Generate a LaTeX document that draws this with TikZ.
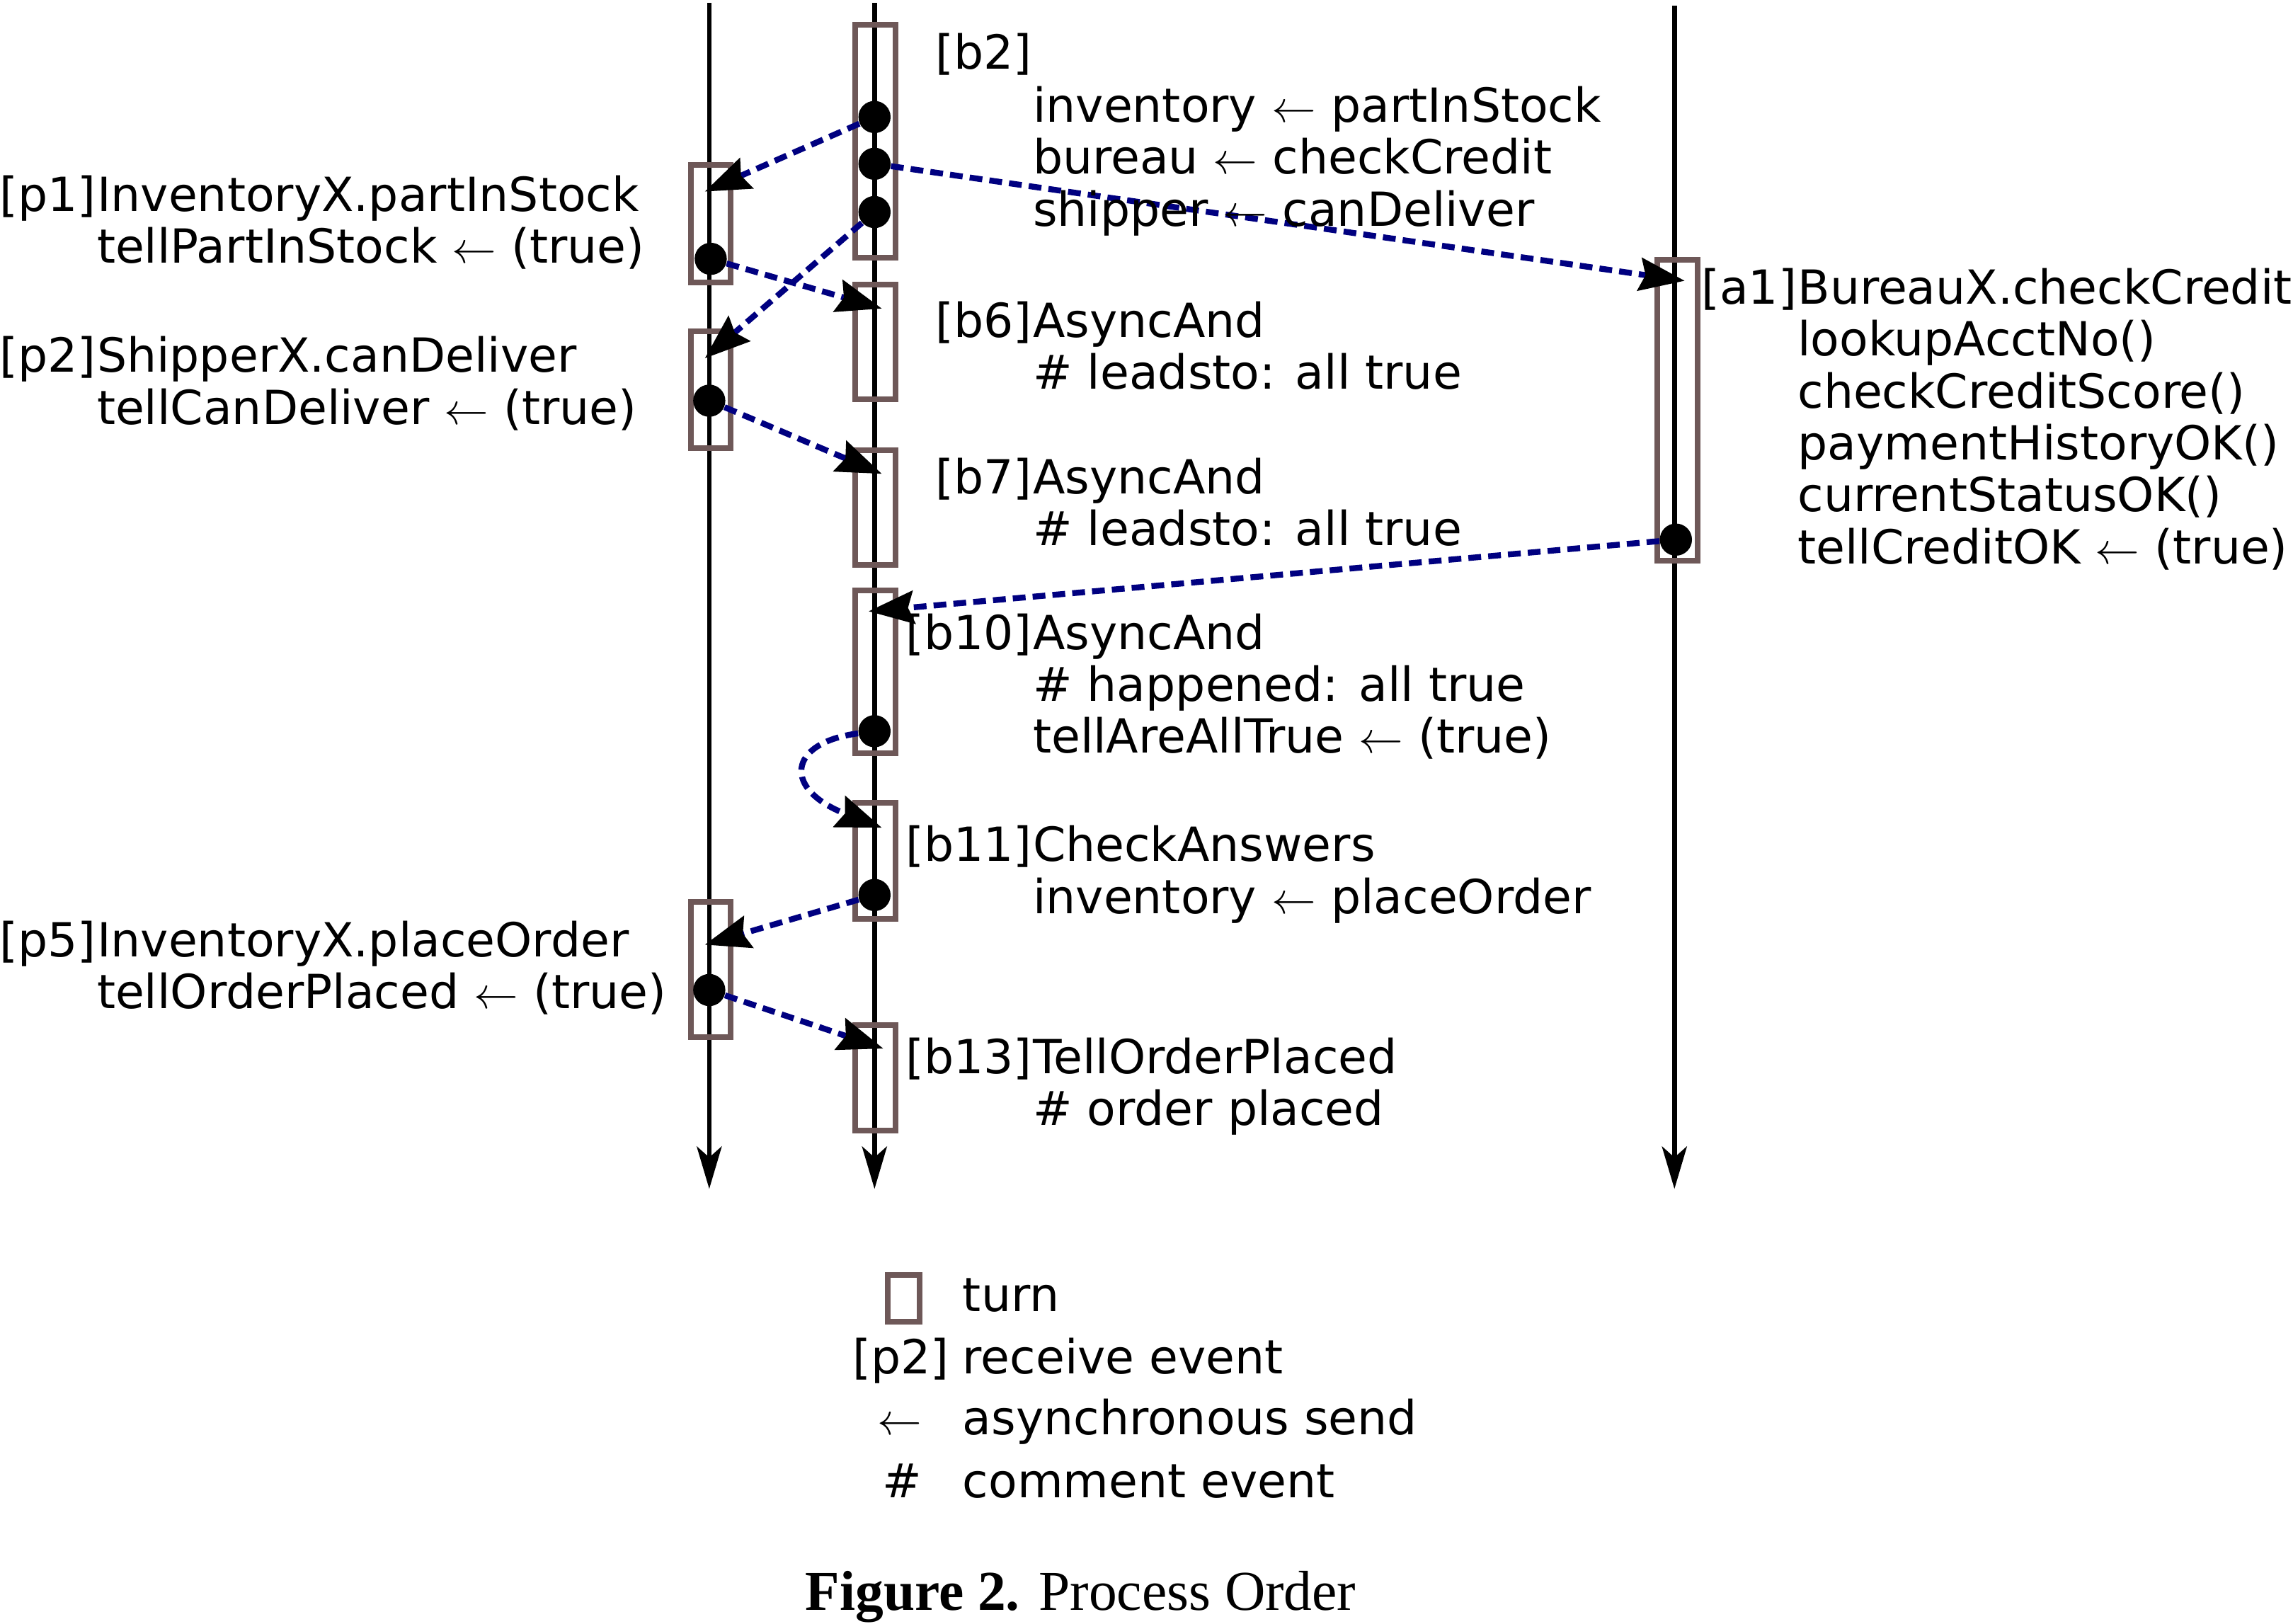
\documentclass[tikz,border=0pt]{standalone}
\usepackage{fontspec}
\setmainfont{DejaVu Sans}
\newfontfamily\capfont{Liberation Serif}
\usetikzlibrary{arrows.meta, positioning}

\definecolor{turnbrown}{RGB}{110,88,88}
\definecolor{msgblue}{RGB}{0,0,128}

\newcommand{\evfont}{\fontsize{18.3pt}{20.2pt}\selectfont}
\newcommand{\evlines}[1]{\begin{tabular}[t]{@{}l@{}}#1\end{tabular}}

\tikzset{
  turn/.style={draw=turnbrown, line width=2.2pt, rectangle, minimum width=0.55cm, inner sep=0pt},
  dot/.style={circle, fill=black, minimum size=0.44cm, inner sep=0pt},
  life/.style={line width=1.85pt, -{Stealth[length=0.58cm, width=0.34cm, inset=0.15cm]}},
  msg/.style={draw=msgblue, line width=2.3pt, dash pattern=on 0.175cm off 0.097cm,
    -{Stealth[length=0.62cm, width=0.45cm, inset=0.08cm, color=black]}},
  tag/.style={anchor=base east, inner sep=0pt, font=\evfont},
  body/.style={anchor=base west, inner sep=0pt, font=\evfont},
  sym/.style={anchor=base, inner sep=0pt, font=\evfont},
}

\begin{document}
\begin{tikzpicture}[x=0.02cm, y=-0.02cm]
    \useasboundingbox (0,0) rectangle (1568,1110.5);

    % Draw the lifelines
    \coordinate (ptop) at (485,2);
    \coordinate (pend) at (485,813);
    \coordinate (btop) at (598,2);
    \coordinate (bend) at (598,813);
    \coordinate (atop) at (1145,4);
    \coordinate (aend) at (1145,813);
    \draw [life] (ptop) -- (pend);
    \draw [life] (btop) -- (bend);
    \draw [life] (atop) -- (aend);

    % Draw the turns
    \node (p1)  [turn, minimum height=1.61cm] at (486,153) {};
    \node (p2)  [turn, minimum height=1.59cm] at (486,266.5) {};
    \node (p5)  [turn, minimum height=1.85cm] at (486,663) {};
    \node (b2)  [turn, minimum height=3.19cm] at (598.5,96.5) {};
    \node (b6)  [turn, minimum height=1.57cm] at (598.5,234) {};
    \node (b7)  [turn, minimum height=1.57cm] at (598.5,347) {};
    \node (b10) [turn, minimum height=2.23cm] at (598.5,459.5) {};
    \node (b11) [turn, minimum height=1.59cm] at (598.5,588.5) {};
    \node (b13) [turn, minimum height=1.45cm] at (598.5,737) {};
    \node (a1)  [turn, minimum height=4.11cm] at (1147,280.5) {};

    % Draw the send points
    \node (b2inv)  [dot] at (598,80) {};
    \node (b2bur)  [dot] at (598,112) {};
    \node (b2ship) [dot] at (598,145) {};
    \node (p1dot)  [dot] at (486,177) {};
    \node (p2dot)  [dot] at (485,274) {};
    \node (a1dot)  [dot] at (1146,369) {};
    \node (b10dot) [dot] at (598,500) {};
    \node (b11dot) [dot] at (598,612) {};
    \node (p5dot)  [dot] at (485,677) {};

    % Receive points
    \coordinate (p1in)  at (482,131);
    \coordinate (p2in)  at (482,245);
    \coordinate (p5in)  at (482,646);
    \coordinate (a1in)  at (1152,192);
    \coordinate (b6in)  at (603,211);
    \coordinate (b7in)  at (603,324);
    \coordinate (b10in) at (594,418);
    \coordinate (b11in) at (603,566);
    \coordinate (b13in) at (604,717);

    % Draw the messages
    \draw [msg] (b2inv) -- (p1in);
    \draw [msg] (b2bur) -- (a1in);
    \draw [msg] (b2ship) -- (p2in);
    \draw [msg] (p1dot) -- (b6in);
    \draw [msg] (p2dot) -- (b7in);
    \draw [msg] (a1dot) -- (b10in);
    \draw [msg] (b10dot) .. controls (538,508) and (535,540) .. (b11in);
    \draw [msg] (b11dot) -- (p5in);
    \draw [msg] (p5dot) -- (b13in);

    % Add the event texts
    \node (p1tag) [tag]  at (66,144.5) {[p1]};
    \node (p1txt) [body] at (66,144.5) {\evlines{InventoryX.partInStock\\ tellPartInStock $\leftarrow$ (true)}};
    \node (p2tag) [tag]  at (66,254.5) {[p2]};
    \node (p2txt) [body] at (66,254.5) {\evlines{ShipperX.canDeliver\\ tellCanDeliver $\leftarrow$ (true)}};
    \node (p5tag) [tag]  at (66,654.3) {[p5]};
    \node (p5txt) [body] at (66,654.3) {\evlines{InventoryX.placeOrder\\ tellOrderPlaced $\leftarrow$ (true)}};

    \node (b2tag) [tag]  at (706,47.2) {[b2]};
    \node (b2txt) [body] at (706,83.5) {\evlines{inventory $\leftarrow$ partInStock\\ bureau $\leftarrow$ checkCredit\\ shipper $\leftarrow$ canDeliver}};
    \node (b6tag) [tag]  at (706,230.7) {[b6]};
    \node (b6txt) [body] at (706,230.7) {\evlines{AsyncAnd\\ \# leadsto: all true}};
    \node (b7tag) [tag]  at (706,337.6) {[b7]};
    \node (b7txt) [body] at (706,337.6) {\evlines{AsyncAnd\\ \# leadsto: all true}};
    \node (b10tag) [tag]  at (706,444) {[b10]};
    \node (b10txt) [body] at (706,444) {\evlines{AsyncAnd\\ \# happened: all true\\ tellAreAllTrue $\leftarrow$ (true)}};
    \node (b11tag) [tag]  at (706,589) {[b11]};
    \node (b11txt) [body] at (706,589) {\evlines{CheckAnswers\\ inventory $\leftarrow$ placeOrder}};
    \node (b13tag) [tag]  at (706,734) {[b13]};
    \node (b13txt) [body] at (706,734) {\evlines{TellOrderPlaced\\ \# order placed}};

    \node (a1tag) [tag]  at (1229,207.9) {[a1]};
    \node (a1txt) [body] at (1229,207.9) {\evlines{BureauX.checkCredit\\ lookupAcctNo()\\ checkCreditScore()\\ paymentHistoryOK()\\ currentStatusOK()\\ tellCreditOK $\leftarrow$ (true)}};

    % Add the legend
    \node (keyturn) [turn, minimum width=0.43cm, minimum height=0.64cm] at (618,888) {};
    \node (keyturntxt) [body] at (658,897) {turn};
    \node (keyrecv) [sym] at (616,939.6) {[p2]};
    \node (keyrecvtxt) [body] at (658,939.6) {receive event};
    \node (keysend) [sym] at (615,981) {$\leftarrow$};
    \node (keysendtxt) [body] at (658,981) {asynchronous send};
    \node (keynote) [sym] at (617,1024) {\#};
    \node (keynotetxt) [body] at (658,1024) {comment event};

    % Caption
    \node (caption) [anchor=base, inner sep=0pt, font=\capfont\fontsize{21.9pt}{24pt}\selectfont] at (739,1101) {\textbf{Figure 2.} Process Order};
\end{tikzpicture}
\end{document}
